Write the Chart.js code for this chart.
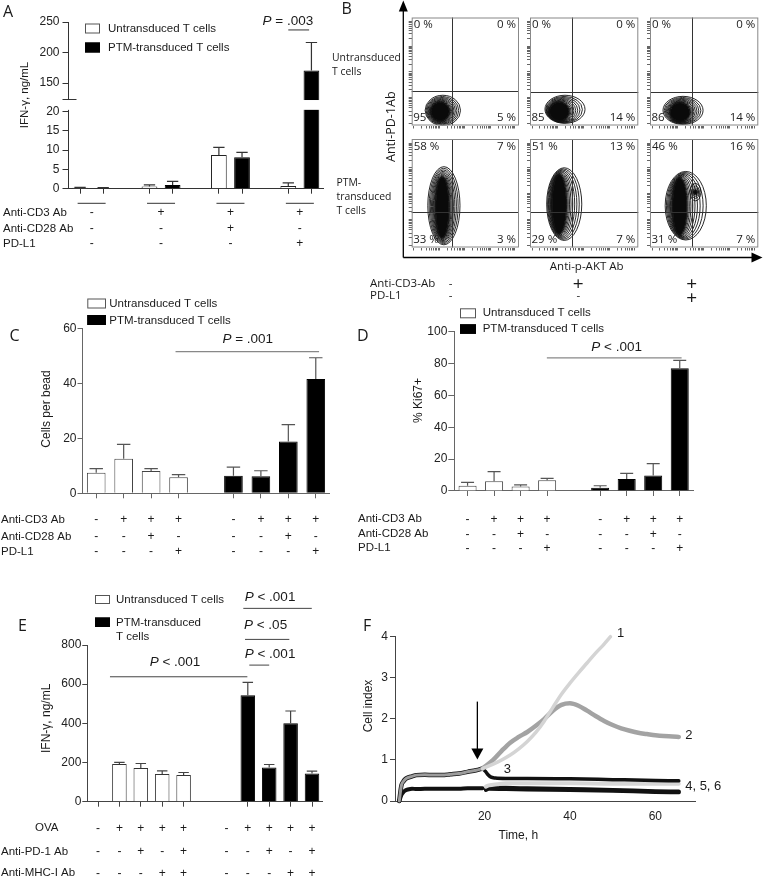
<!DOCTYPE html>
<html>
<head>
<meta charset="utf-8">
<title>Figure</title>
<script src="https://cdn.jsdelivr.net/npm/chart.js@4.4.1/dist/chart.umd.min.js"></script>
<style>
  html, body { margin: 0; padding: 0; background: #fff; }
  #fig { position: relative; width: 763px; height: 891px; overflow: hidden; background: #fff; }
  #fig canvas { position: absolute; left: 0; top: 0; }
</style>
</head>
<body>
<div id="fig"></div>
<script>
//////////////////////////////////////////////////
/////            Data                /////////////
//////////////////////////////////////////////////

// A - IFN-g, untransduced vs PTM-transduced (mean, SEM)
var A_UNTRANS = [0.26, 0.6, 8.7, 0.7];
var A_UNTRANS_SEM = [0.1, 0.4, 2.0, 0.8];
var A_PTM = [0.17, 0.95, 8.1, 170.5];
var A_PTM_SEM = [0.1, 0.95, 1.3, 46];
var A_YTICKS = [0, 5, 10, 15, 20, 124, 150, 200, 250];
var A_CD3 = ['-', '+', '+', '+'];
var A_CD28 = ['-', '-', '+', '-'];
var A_PDL1 = ['-', '-', '-', '+'];

// B - quadrant percentages (UL, UR, LL, LR), gates and population outlines (% of axis)
var B_PCT = [[0, 0, 95, 5], [0, 0, 85, 14], [0, 0, 86, 14],
             [58, 7, 33, 3], [51, 13, 29, 7], [46, 16, 31, 7]];
var B_GATE = [[38, 32], [38.5, 31], [38.5, 31], [38, 33], [38.5, 33], [38.5, 33]];
// outer cx, cy, rx, ry, dense core cx, cy, rx, ry
var B_POP = [[29, 14, 16.5, 14, 26.5, 13, 8.5, 8.5],
             [32.3, 15, 18.5, 13, 27, 13, 9, 8.5],
             [30.5, 14, 18.5, 13, 27.7, 12.5, 9, 8.5],
             [30, 38.5, 15, 36, 28.5, 37, 6, 28],
             [31.6, 40, 16.2, 33.5, 27, 40, 6.5, 27],
             [33, 38.5, 19, 31.6, 27.5, 38, 6.5, 26]];
var B_LOBE = [null, null, null, null, null, [42, 51, 5, 8]];
var B_CD3 = ['-', '+', '+'];
var B_PDL1 = ['-', '-', '+'];

// C - cells per bead
var C_UNTRANS = [7.5, 12.6, 8.1, 5.8];
var C_UNTRANS_SEM = [1.5, 5.2, 0.9, 1.0];
var C_PTM = [6.4, 6.2, 18.8, 41.6];
var C_PTM_SEM = [3.1, 2.0, 6.2, 7.7];
var C_YTICKS = [0, 20, 40, 60];

// D - % Ki67+
var D_UNTRANS = [3.3, 6.1, 2.9, 6.7];
var D_UNTRANS_SEM = [2.1, 6.0, 0.9, 1.2];
var D_PTM = [2.1, 7.5, 9.8, 77.0];
var D_PTM_SEM = [1.2, 3.6, 7.4, 5.0];
var D_YTICKS = [0, 20, 40, 60, 80, 100];

var CD_CD3 = ['-', '+', '+', '+'];
var CD_CD28 = ['-', '-', '+', '-'];
var CD_PDL1 = ['-', '-', '-', '+'];

// E - IFN-g with OVA
var E_UNTRANS = [0, 192, 172, 141, 136];
var E_UNTRANS_SEM = [0, 9, 23, 16, 13];
var E_PTM = [0, 544, 175, 400, 144];
var E_PTM_SEM = [0, 65, 15, 63, 12];
var E_YTICKS = [0, 200, 400, 600, 800];
var E_OVA = ['-', '+', '+', '+', '+'];
var E_PD1 = ['-', '-', '+', '-', '+'];
var E_MHC = ['-', '-', '-', '+', '+'];

// F - cell index over time
var F_PRE_T = [0, 0.5, 1, 1.5, 2, 3, 4, 6, 8, 10, 12, 14, 16, 18, 19.5];
var F_PRE_HI = [0, 0.38, 0.48, 0.54, 0.57, 0.6, 0.63, 0.64, 0.63, 0.63, 0.65, 0.67, 0.71, 0.75, 0.79];
var F_PRE_LO = [0, 0.15, 0.22, 0.26, 0.28, 0.3, 0.29, 0.3, 0.3, 0.3, 0.3, 0.3, 0.31, 0.31, 0.31];
var F_T1 = [19.5, 22, 24, 26, 28, 30, 32, 34, 36, 38, 40, 42, 44, 46, 48, 49.5];
var F_V1 = [0.79, 0.9, 1.0, 1.12, 1.27, 1.45, 1.67, 1.95, 2.28, 2.6, 2.87, 3.12, 3.36, 3.6, 3.82, 4.0];
var F_T2 = [19.5, 22, 24, 26, 28, 30, 32, 34, 36, 38, 40, 42, 44, 46, 48, 50, 52, 54, 56, 58, 60, 62, 64, 65.5];
var F_V2 = [0.79, 1.0, 1.22, 1.42, 1.56, 1.68, 1.83, 2.0, 2.2, 2.34, 2.38, 2.32, 2.2, 2.07, 1.95, 1.85, 1.77, 1.71, 1.66, 1.63, 1.6, 1.58, 1.57, 1.56];
var F_T3 = [19.5, 20.2, 20.8, 21.5, 22.5, 25, 30, 40, 50, 60, 65.5];
var F_V3 = [0.79, 0.72, 0.64, 0.58, 0.56, 0.55, 0.55, 0.54, 0.52, 0.5, 0.49];
var F_T4 = [20.3, 21, 23, 25, 30, 40, 50, 60, 65.5];
var F_V4 = [0.35, 0.38, 0.41, 0.43, 0.43, 0.43, 0.42, 0.42, 0.42];
var F_T56 = [20.3, 21, 25, 30, 40, 50, 60, 65.5];
var F_V5 = [0.30, 0.33, 0.32, 0.31, 0.29, 0.27, 0.24, 0.23];
var F_V6 = [0.27, 0.30, 0.29, 0.28, 0.27, 0.25, 0.22, 0.21];
var F_XTICKS = [20, 40, 60];
var F_YTICKS = [0, 1, 2, 3, 4];

//////////////////////////////////////////////////
/////            Helpers             /////////////
//////////////////////////////////////////////////

var W = 763, H = 891;
var SANS = '"Liberation Sans", Arial, Helvetica, sans-serif';
var OPEN = '"Open Sans", "Noto Sans", sans-serif';
var fig = document.getElementById('fig');

function addCanvas() {
    var c = document.createElement('canvas');
    c.width = W; c.height = H;
    c.style.width = W + 'px'; c.style.height = H + 'px';
    fig.appendChild(c);
    return c;
}

function txt(ctx, s, x, y, o) {
    o = o || {};
    ctx.save();
    ctx.font = (o.italic ? 'italic ' : '') + (o.size || 12) + 'px ' + (o.family || SANS);
    ctx.fillStyle = o.color || '#1a1a1a';
    ctx.textAlign = o.align || 'left';
    ctx.textBaseline = 'middle';
    ctx.translate(x, y);
    if (o.rot) ctx.rotate(o.rot);
    ctx.fillText(s, 0, 0);
    ctx.restore();
}

// italic P followed by the rest, centred on cx
function pLabel(ctx, rest, cx, y, size) {
    ctx.save();
    ctx.font = 'italic ' + size + 'px ' + SANS;
    var wp = ctx.measureText('P').width;
    ctx.font = size + 'px ' + SANS;
    var wr = ctx.measureText(rest).width;
    ctx.restore();
    var x0 = cx - (wp + wr) / 2;
    txt(ctx, 'P', x0, y, { size: size, italic: true });
    txt(ctx, rest, x0 + wp, y, { size: size });
}

function hline(ctx, x1, x2, y, color, w) {
    ctx.save();
    ctx.strokeStyle = color; ctx.lineWidth = w || 1;
    ctx.beginPath(); ctx.moveTo(x1, y); ctx.lineTo(x2, y); ctx.stroke();
    ctx.restore();
}

function legendBox(ctx, x, y, w, h, fill) {
    ctx.save();
    ctx.fillStyle = fill; ctx.fillRect(x, y, w, h);
    ctx.strokeStyle = fill === '#000' ? '#000' : '#555'; ctx.lineWidth = 1;
    ctx.strokeRect(x + 0.5, y + 0.5, w - 1, h - 1);
    ctx.restore();
}

function signRows(ctx, xs, idx, rows) {
    rows.forEach(function (r) {
        txt(ctx, r[0], r[1], r[2], { size: 11.5 });
        r[3].forEach(function (s, i) {
            txt(ctx, s, xs.getPixelForValue(idx[i]), r[2], { size: 12, align: 'center' });
        });
    });
}

// u1 p1 _ u2 p2 _ ...
function pairSlots(u, p) {
    var U = [], P = [];
    u.forEach(function (v, i) {
        U.push(v, null); P.push(null, p[i]);
        if (i < u.length - 1) { U.push(null); P.push(null); }
    });
    return [U, P];
}
// u... (gap) p...
function blockSlots(u, p, gap) {
    var pad = Array(gap).fill(null);
    return [u.concat(pad, p.map(function () { return null; })),
            u.map(function () { return null; }).concat(pad, p)];
}

function baseOpts(area, yw, xh) {
    return {
        responsive: false, animation: false, events: [], devicePixelRatio: 1,
        layout: { padding: { left: area.l - yw, top: area.t, right: W - area.r, bottom: H - area.b - xh } },
        plugins: { legend: { display: false }, tooltip: { enabled: false } }
    };
}

var errorBars = {
    id: 'errorBars',
    afterDatasetsDraw: function (chart) {
        var ctx = chart.ctx, ys = chart.scales.y;
        chart.data.datasets.forEach(function (ds, di) {
            if (!ds.errs) return;
            chart.getDatasetMeta(di).data.forEach(function (bar, i) {
                var v = ds.data[i], e = ds.errs[i];
                if (v == null || !e) return;
                var top = ys.getPixelForValue(v + e), cap = bar.width * 0.36;
                ctx.save();
                ctx.strokeStyle = ds.errColor || '#444'; ctx.lineWidth = 1.2;
                ctx.beginPath();
                ctx.moveTo(bar.x, bar.y); ctx.lineTo(bar.x, top);
                ctx.moveTo(bar.x - cap, top); ctx.lineTo(bar.x + cap, top);
                ctx.stroke();
                ctx.restore();
            });
        });
    }
};

// linear scale with a cut between brk.lo and brk.hi
class BrokenScale extends Chart.LinearScale {
    _frac(v) {
        var b = this.options.brk;
        if (v <= b.lo) return v / b.lo * b.loFrac;
        if (v < b.hi) return b.loFrac + (v - b.lo) / (b.hi - b.lo) * (b.hiFrac - b.loFrac);
        return b.hiFrac + (v - b.hi) / (this.max - b.hi) * (1 - b.hiFrac);
    }
    getPixelForValue(v) {
        return this.bottom - this._frac(v) * (this.bottom - this.top);
    }
    getValueForPixel(p) {
        var b = this.options.brk, f = (this.bottom - p) / (this.bottom - this.top);
        if (f <= b.loFrac) return f / b.loFrac * b.lo;
        if (f < b.hiFrac) return b.lo + (f - b.loFrac) / (b.hiFrac - b.loFrac) * (b.hi - b.lo);
        return b.hi + (f - b.hiFrac) / (1 - b.hiFrac) * (this.max - b.hi);
    }
}
BrokenScale.id = 'broken';
BrokenScale.defaults = Chart.LinearScale.defaults;
Chart.register(BrokenScale);

function barPanel(o) {
    var d = o.slots(o.u, o.p), e = o.slots(o.uErr, o.pErr);
    var n = d[0].length;
    var opts = baseOpts(o.area, o.yw, 10);
    var hidden = function (c) { return o.hideTicks.indexOf(c.index) >= 0 ? 'rgba(0,0,0,0)' : o.axis; };
    var y = {
        min: 0,
        afterFit: function (s) { s.width = o.yw; },
        afterBuildTicks: function (s) { s.ticks = o.yticks.map(function (v) { return { value: v }; }); },
        ticks: { autoSkip: false, font: { size: 12 }, color: '#222', padding: o.tickPad },
        grid: { display: true, drawOnChartArea: false, tickLength: o.tickLen, color: o.axis, tickColor: o.axis },
        border: { display: true, color: o.axis, width: 1 }
    };
    Object.keys(o.y).forEach(function (k) {
        if (k === 'ticks') Object.assign(y.ticks, o.y.ticks); else y[k] = o.y[k];
    });
    opts.scales = {
        x: {
            type: 'category', offset: true,
            afterFit: function (s) { s.height = 10; },
            ticks: { display: false },
            grid: { display: true, drawOnChartArea: false, offset: false, tickLength: 5, color: hidden, tickColor: hidden },
            border: { display: true, color: o.axis, width: 1 }
        },
        y: y
    };
    var plugins = (o.extra || []).concat([errorBars, {
        id: 'decor', afterDraw: function (ch) { o.decor(ch.ctx, ch.scales.x, ch.scales.y, ch); }
    }]);
    return new Chart(addCanvas(), {
        type: 'bar',
        data: {
            labels: Array.from({ length: n }, function (_, i) { return 'slot' + i; }),
            datasets: [
                { label: 'Untransduced T cells', data: d[0], errs: e[0], errColor: o.errColor,
                  backgroundColor: '#fff', borderColor: o.edge, borderWidth: 1,
                  grouped: false, barPercentage: 0.68, categoryPercentage: 1 },
                { label: 'PTM-transduced T cells', data: d[1], errs: e[1], errColor: o.errColor,
                  backgroundColor: '#000', borderColor: '#000', borderWidth: 1,
                  grouped: false, barPercentage: 0.68, categoryPercentage: 1 }
            ]
        },
        options: opts,
        plugins: plugins
    });
}

//////////////////////////////////////////////////
/////            Panels              /////////////
//////////////////////////////////////////////////

function panelA() {
    barPanel({
        area: { l: 68.5, t: 22, r: 323, b: 188.7 }, yw: 68.5, tickLen: 6, tickPad: 3,
        u: A_UNTRANS, p: A_PTM, uErr: A_UNTRANS_SEM, pErr: A_PTM_SEM,
        slots: pairSlots, hideTicks: [2, 5, 8], axis: '#333', edge: '#222', errColor: '#333',
        yticks: A_YTICKS,
        y: { type: 'broken', max: 250, brk: { lo: 20, hi: 124, loFrac: 0.464, hiFrac: 0.538 },
             ticks: { callback: function (v) { return v === 124 ? '' : String(v); } } },
        extra: [{
            id: 'cut',
            afterDatasetsDraw: function (ch) {
                var ctx = ch.ctx, ys = ch.scales.y, a = ch.chartArea;
                var y1 = ys.getPixelForValue(124), y2 = ys.getPixelForValue(20);
                ctx.save();
                ctx.fillStyle = '#fff';
                ctx.fillRect(a.left - 9, y1 + 1, a.right - a.left + 9, y2 - y1 - 2.5);
                ctx.restore();
                hline(ctx, a.left, a.left + 8, y1 + 0.5, '#333', 1);
            }
        }],
        decor: function (ctx, xs, ys) {
            txt(ctx, 'A', 3, 12.5, { size: 16, family: OPEN });
            txt(ctx, 'IFN-γ, ng/mL', 25, 95, { rot: -Math.PI / 2, align: 'center', size: 11.5 });
            legendBox(ctx, 85, 23.5, 15, 10, '#fff');
            txt(ctx, 'Untransduced T cells', 108, 29, { size: 11.5 });
            legendBox(ctx, 85, 42.5, 15, 10, '#000');
            txt(ctx, 'PTM-transduced T cells', 108, 48, { size: 11.5 });
            hline(ctx, xs.getPixelForValue(9), xs.getPixelForValue(9.9), ys.getPixelForValue(237), '#333', 1);
            pLabel(ctx, ' = .003', xs.getPixelForValue(8.98), ys.getPixelForValue(251.6), 13.5);
            var idx = A_CD3.map(function (_, g) { return 3 * g + 0.5; });
            idx.forEach(function (i) {
                var cx = xs.getPixelForValue(i);
                hline(ctx, cx - 14, cx + 14, 203.3, '#333', 1);
            });
            signRows(ctx, xs, idx, [
                ['Anti-CD3 Ab', 3, 212.5, A_CD3],
                ['Anti-CD28 Ab', 3, 228.5, A_CD28],
                ['PD-L1', 3, 244, A_PDL1]
            ]);
        }
    });
}

var B_COLS = [[411.7, 519], [530, 638.3], [650, 758.3]];
var B_ROWS = [[17.5, 125.5], [139, 247.5]];

function flowTicks() {
    var t = [];
    for (var dec = 0; dec < 4; dec++) {
        for (var m = 1; m < 10; m++) {
            var v = (dec + Math.log10(m)) / 4.2 * 100 + 2;
            if (v <= 100) t.push({ value: v });
        }
    }
    return t;
}

// nested contour rings from the outer outline down to a filled dense core
function rings(ctx, xs, ys, p, n) {
    for (var k = 0; k < n; k++) {
        var u = k / (n - 1), t = 1 - Math.pow(1 - u, 1.7);
        var cx = p[0] + (p[4] - p[0]) * t, cy = p[1] + (p[5] - p[1]) * t;
        var rx = p[2] + (p[6] - p[2]) * t, ry = p[3] + (p[7] - p[3]) * t;
        var px = xs.getPixelForValue(cx), py = ys.getPixelForValue(cy);
        var prx = Math.abs(xs.getPixelForValue(cx + rx) - px);
        var pry = Math.abs(ys.getPixelForValue(cy + ry) - py);
        ctx.beginPath();
        ctx.ellipse(px, py, prx, pry, 0, 0, 2 * Math.PI);
        if (k === n - 1) { ctx.fillStyle = '#0a0a0a'; ctx.fill(); }
        ctx.stroke();
    }
}

function bDecor(ctx) {
    txt(ctx, 'B', 341.5, 9.5, { size: 16, family: OPEN });
    ctx.save();
    ctx.strokeStyle = '#000'; ctx.fillStyle = '#000'; ctx.lineWidth = 1.3;
    ctx.beginPath();
    ctx.moveTo(403.3, 257.5); ctx.lineTo(403.3, 9);
    ctx.moveTo(403.3, 257.5); ctx.lineTo(752, 257.5);
    ctx.stroke();
    ctx.beginPath(); ctx.moveTo(403.3, 0.5); ctx.lineTo(398.8, 11.5); ctx.lineTo(407.8, 11.5); ctx.closePath(); ctx.fill();
    ctx.beginPath(); ctx.moveTo(762.5, 257.5); ctx.lineTo(751.5, 252.5); ctx.lineTo(751.5, 262.5); ctx.closePath(); ctx.fill();
    ctx.restore();
    var f = { size: 11.5, family: OPEN };
    var g = { size: 10.4, family: OPEN };
    txt(ctx, 'Untransduced', 332, 58.3, g);
    txt(ctx, 'T cells', 332, 72, g);
    txt(ctx, 'PTM-', 336.5, 183.3, g);
    txt(ctx, 'transduced', 336.5, 197, g);
    txt(ctx, 'T cells', 336.5, 211, g);
    txt(ctx, 'Anti-PD-1Ab', 391.7, 126.7, { size: 12.5, family: OPEN, rot: -Math.PI / 2, align: 'center' });
    txt(ctx, 'Anti-p-AKT Ab', 586.7, 267, { size: 11.5, family: OPEN, align: 'center' });
    txt(ctx, 'Anti-CD3-Ab', 370, 283.3, f);
    txt(ctx, 'PD-L1', 370, 295.5, f);
    var colX = [450.7, 578.3, 691.7];
    B_CD3.forEach(function (s, i) {
        txt(ctx, s, colX[i], s === '+' ? 285 : 283.3, { size: s === '+' ? 19 : 11.5, family: OPEN, align: 'center' });
    });
    B_PDL1.forEach(function (s, i) {
        txt(ctx, s, colX[i], s === '+' ? 298.5 : 296, { size: s === '+' ? 19 : 11.5, family: OPEN, align: 'center' });
    });
}

function panelB() {
    B_PCT.forEach(function (q, k) {
        var row = Math.floor(k / 3), col = k % 3;
        var area = { l: B_COLS[col][0], r: B_COLS[col][1], t: B_ROWS[row][0], b: B_ROWS[row][1] };
        var opts = baseOpts(area, 5, 5);
        var ax = function (fit) {
            return {
                type: 'linear', min: 0, max: 100, afterFit: fit,
                afterBuildTicks: function (s) { s.ticks = flowTicks(); },
                ticks: { display: false },
                grid: { display: true, drawOnChartArea: false, tickLength: 3, color: '#666', tickColor: '#666' },
                border: { display: false }
            };
        };
        opts.scales = {
            x: ax(function (s) { s.height = 5; }),
            y: ax(function (s) { s.width = 5; })
        };
        new Chart(addCanvas(), {
            type: 'scatter',
            data: { datasets: [{ data: [{ x: B_POP[k][0], y: B_POP[k][1] }], pointRadius: 0 }] },
            options: opts,
            plugins: [{
                id: 'flow',
                afterDraw: function (ch) {
                    var ctx = ch.ctx, xs = ch.scales.x, ys = ch.scales.y, a = ch.chartArea;
                    var f = { size: 11.5, family: OPEN, color: '#222' };
                    var ll = row === 0 ? String(q[2]) : q[2] + ' %';
                    txt(ctx, q[0] + ' %', a.left + 2, a.top + 7.5, f);
                    txt(ctx, q[1] + ' %', a.right - 3, a.top + 7.5, Object.assign({ align: 'right' }, f));
                    txt(ctx, ll, a.left + 1.5, a.bottom - 8, f);
                    txt(ctx, q[3] + ' %', a.right - 3, a.bottom - 8, Object.assign({ align: 'right' }, f));
                    ctx.save();
                    ctx.beginPath(); ctx.rect(a.left, a.top, a.right - a.left, a.bottom - a.top); ctx.clip();
                    ctx.strokeStyle = '#111'; ctx.lineWidth = 0.9;
                    rings(ctx, xs, ys, B_POP[k], 11);
                    var lobe = B_LOBE[k];
                    if (lobe) rings(ctx, xs, ys, [lobe[0], lobe[1], lobe[2], lobe[3], lobe[0], lobe[1], 1.5, 2], 5);
                    ctx.restore();
                    var gx = Math.round(xs.getPixelForValue(B_GATE[k][0])) + 0.5;
                    var gy = Math.round(ys.getPixelForValue(B_GATE[k][1])) + 0.5;
                    ctx.save();
                    ctx.strokeStyle = '#333'; ctx.lineWidth = 1;
                    ctx.beginPath();
                    ctx.moveTo(gx, a.top); ctx.lineTo(gx, a.bottom);
                    ctx.moveTo(a.left, gy); ctx.lineTo(a.right, gy);
                    ctx.stroke();
                    ctx.strokeStyle = '#888';
                    ctx.strokeRect(a.left + 0.5, a.top + 0.5, a.right - a.left - 1, a.bottom - a.top - 1);
                    ctx.restore();
                    if (k === 0) bDecor(ctx);
                }
            }]
        });
    });
}

function panelC() {
    barPanel({
        area: { l: 82.5, t: 328.3, r: 329.5, b: 493.3 }, yw: 40, tickLen: 5, tickPad: 1,
        u: C_UNTRANS, p: C_PTM, uErr: C_UNTRANS_SEM, pErr: C_PTM_SEM,
        slots: function (u, p) { return blockSlots(u, p, 1); }, hideTicks: [4],
        axis: '#666', edge: '#444', errColor: '#555', yticks: C_YTICKS,
        y: { type: 'linear', max: 60 },
        decor: function (ctx, xs, ys) {
            txt(ctx, 'C', 9.5, 336, { size: 16, family: OPEN });
            txt(ctx, 'Cells per bead', 46.7, 409, { rot: -Math.PI / 2, align: 'center', size: 12 });
            legendBox(ctx, 87.3, 298.5, 18.7, 10, '#fff');
            txt(ctx, 'Untransduced T cells', 109.3, 304, { size: 11.5 });
            legendBox(ctx, 87.3, 315, 18.7, 10, '#000');
            txt(ctx, 'PTM-transduced T cells', 109.3, 320.7, { size: 11.5 });
            hline(ctx, xs.getPixelForValue(2.89), xs.getPixelForValue(8.12), ys.getPixelForValue(51.5), '#888', 1.2);
            pLabel(ctx, ' = .001', xs.getPixelForValue(5.52), ys.getPixelForValue(56.1), 13.5);
            signRows(ctx, xs, [0, 1, 2, 3, 5, 6, 7, 8], [
                ['Anti-CD3 Ab', 1, 520, CD_CD3.concat(CD_CD3)],
                ['Anti-CD28 Ab', 1, 536.7, CD_CD28.concat(CD_CD28)],
                ['PD-L1', 1, 551.7, CD_PDL1.concat(CD_PDL1)]
            ]);
        }
    });
}

function panelD() {
    barPanel({
        area: { l: 454.3, t: 331.7, r: 693, b: 491 }, yw: 40, tickLen: 6, tickPad: 1,
        u: D_UNTRANS, p: D_PTM, uErr: D_UNTRANS_SEM, pErr: D_PTM_SEM,
        slots: function (u, p) { return blockSlots(u, p, 1); }, hideTicks: [4],
        axis: '#666', edge: '#444', errColor: '#555', yticks: D_YTICKS,
        y: { type: 'linear', max: 100 },
        decor: function (ctx, xs, ys) {
            txt(ctx, 'D', 357, 336, { size: 16, family: OPEN });
            txt(ctx, '% Ki67+', 418.3, 400.5, { rot: -Math.PI / 2, align: 'center', size: 12 });
            legendBox(ctx, 460, 308.3, 16, 10, '#fff');
            txt(ctx, 'Untransduced T cells', 482.7, 313.3, { size: 11.5 });
            legendBox(ctx, 460, 324.3, 16, 9.5, '#000');
            txt(ctx, 'PTM-transduced T cells', 482.7, 329.3, { size: 11.5 });
            hline(ctx, xs.getPixelForValue(2.99), xs.getPixelForValue(8.07), ys.getPixelForValue(83.6), '#888', 1.2);
            pLabel(ctx, ' < .001', xs.getPixelForValue(5.62), ys.getPixelForValue(90.2), 13.5);
            signRows(ctx, xs, [0, 1, 2, 3, 5, 6, 7, 8], [
                ['Anti-CD3 Ab', 358, 519.3, CD_CD3.concat(CD_CD3)],
                ['Anti-CD28 Ab', 358, 534.3, CD_CD28.concat(CD_CD28)],
                ['PD-L1', 358, 548.3, CD_PDL1.concat(CD_PDL1)]
            ]);
        }
    });
}

function panelE() {
    barPanel({
        area: { l: 87.3, t: 645, r: 322.7, b: 801.7 }, yw: 40, tickLen: 5, tickPad: 1,
        u: E_UNTRANS, p: E_PTM, uErr: E_UNTRANS_SEM, pErr: E_PTM_SEM,
        slots: function (u, p) { return blockSlots(u, p, 1); }, hideTicks: [5, 6],
        axis: '#444', edge: '#333', errColor: '#444', yticks: E_YTICKS,
        y: { type: 'linear', max: 800 },
        decor: function (ctx, xs, ys) {
            var gx = function (v) { return xs.getPixelForValue(v); };
            var gy = function (v) { return ys.getPixelForValue(v); };
            txt(ctx, 'E', 18, 626, { size: 16, family: OPEN });
            txt(ctx, 'IFN-γ, ng/mL', 46.7, 718.3, { rot: -Math.PI / 2, align: 'center', size: 12 });
            legendBox(ctx, 95, 595, 15, 9, '#fff');
            txt(ctx, 'Untransduced T cells', 116, 600, { size: 11.5 });
            legendBox(ctx, 95, 617.5, 15, 9.5, '#000');
            txt(ctx, 'PTM-transduced', 116, 623.3, { size: 11.5 });
            txt(ctx, 'T cells', 116, 636.7, { size: 11.5 });
            hline(ctx, gx(6.79), gx(9.99), gy(987), '#444', 1);
            pLabel(ctx, ' < .001', gx(8.04), gy(1046), 13.5);
            hline(ctx, gx(6.87), gx(8.94), gy(828.6), '#444', 1);
            pLabel(ctx, ' < .05', gx(7.83), gy(901.5), 13.5);
            hline(ctx, gx(7.07), gx(8.0), gy(697.4), '#444', 1);
            pLabel(ctx, ' < .001', gx(8.04), gy(753.6), 13.5);
            hline(ctx, gx(0.56), gx(6.98), gy(637.8), '#444', 1);
            pLabel(ctx, ' < .001', gx(3.6), gy(711), 13.5);
            signRows(ctx, xs, [0, 1, 2, 3, 4, 6, 7, 8, 9, 10], [
                ['OVA', 35, 828.3, E_OVA.concat(E_OVA)],
                ['Anti-PD-1 Ab', 1, 851.7, E_PD1.concat(E_PD1)],
                ['Anti-MHC-I Ab', 1, 873.3, E_MHC.concat(E_MHC)]
            ]);
        }
    });
}

function pts(t, v) { return t.map(function (x, i) { return { x: x, y: v[i] }; }); }

function panelF() {
    var opts = baseOpts({ l: 395, t: 636.7, r: 695, b: 801 }, 40, 22);
    opts.scales = {
        x: {
            type: 'linear', min: -1, max: 69.3,
            afterFit: function (s) { s.height = 22; },
            afterBuildTicks: function (s) { s.ticks = F_XTICKS.map(function (v) { return { value: v }; }); },
            ticks: { autoSkip: false, maxRotation: 0, font: { size: 12 }, color: '#222', padding: 8 },
            grid: { display: true, drawOnChartArea: false, drawTicks: false },
            border: { display: true, color: '#444', width: 1 }
        },
        y: {
            min: 0, max: 4,
            afterFit: function (s) { s.width = 40; },
            afterBuildTicks: function (s) { s.ticks = F_YTICKS.map(function (v) { return { value: v }; }); },
            ticks: { autoSkip: false, font: { size: 12 }, color: '#222', padding: 2 },
            grid: { display: true, drawOnChartArea: false, tickLength: 5, color: '#444', tickColor: '#444' },
            border: { display: true, color: '#444', width: 1 }
        }
    };
    var line = function (label, data, color, w) {
        return { label: label, data: data, borderColor: color, borderWidth: w, pointRadius: 0, fill: false,
                 tension: 0.35, cubicInterpolationMode: 'monotone', borderCapStyle: 'round', clip: 10 };
    };
    new Chart(addCanvas(), {
        type: 'line',
        data: {
            datasets: [
                line('1', pts(F_T1, F_V1), '#d4d4d4', 3.5),
                line('2', pts(F_T2, F_V2), '#a3a3a3', 4.5),
                line('1-3 before', pts(F_PRE_T, F_PRE_HI), '#9c9c9c', 3),
                line('1-3 before (edge)', pts(F_PRE_T, F_PRE_HI), '#111', 4.5),
                line('3', pts(F_T3, F_V3), '#111', 3.5),
                line('4', pts(F_T4, F_V4), '#d6d6d6', 4),
                line('5', pts(F_T56, F_V5), '#111', 4),
                line('6', pts(F_T56, F_V6), '#111', 4),
                line('4-6 before', pts(F_PRE_T, F_PRE_LO), '#111', 4)
            ]
        },
        options: opts,
        plugins: [{
            id: 'decor',
            afterDraw: function (ch) {
                var ctx = ch.ctx, xs = ch.scales.x, ys = ch.scales.y;
                txt(ctx, 'F', 363, 626, { size: 16, family: OPEN });
                txt(ctx, 'Cell index', 369, 706, { rot: -Math.PI / 2, align: 'center', size: 12 });
                txt(ctx, 'Time, h', 518.3, 835.7, { align: 'center', size: 12 });
                // medium change arrow
                var ax = xs.getPixelForValue(18.3), ay1 = ys.getPixelForValue(2.42), ay2 = ys.getPixelForValue(1.01);
                ctx.save();
                ctx.strokeStyle = '#000'; ctx.fillStyle = '#000'; ctx.lineWidth = 1.3;
                ctx.beginPath(); ctx.moveTo(ax, ay1); ctx.lineTo(ax, ay2 - 8); ctx.stroke();
                ctx.beginPath(); ctx.moveTo(ax, ay2); ctx.lineTo(ax - 6, ay2 - 11); ctx.lineTo(ax + 6, ay2 - 11); ctx.closePath(); ctx.fill();
                ctx.restore();
                var lab = function (s, x, y) { txt(ctx, s, xs.getPixelForValue(x), ys.getPixelForValue(y), { size: 13 }); };
                lab('1', 51, 4.08);
                lab('2', 67, 1.6);
                lab('3', 24.5, 0.76);
                lab('4, 5, 6', 67, 0.35);
            }
        }]
    });
}

function build() {
    Chart.defaults.font.family = SANS;
    Chart.defaults.color = '#222';
    panelA();
    panelB();
    panelC();
    panelD();
    panelE();
    panelF();
}

Promise.all([
    '12px "Liberation Sans"', 'italic 12px "Liberation Sans"', '12px "Open Sans"'
].map(function (f) { return document.fonts.load(f); })).then(build, build);
</script>
</body>
</html>
